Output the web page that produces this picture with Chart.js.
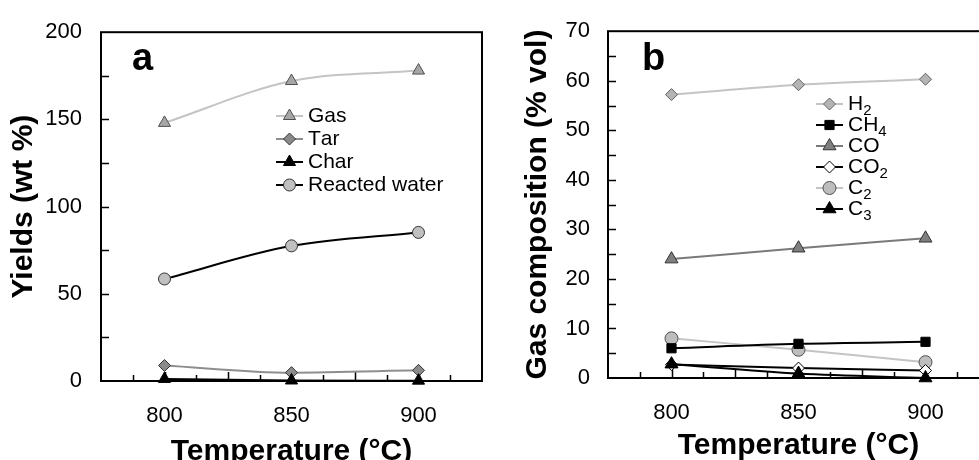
<!DOCTYPE html>
<html>
<head>
<meta charset="utf-8">
<script src="https://cdn.jsdelivr.net/npm/chart.js@4"></script>
<style>
  html, body { margin: 0; padding: 0; background: #fff; }
  body { width: 979px; height: 460px; overflow: hidden; position: relative; }
  canvas { position: absolute; top: 0; }
  #chartA { left: 0; }
  #chartB { left: 490px; }
</style>
</head>
<body>
<canvas id="chartA" width="490" height="500"></canvas>
<canvas id="chartB" width="510" height="500"></canvas>
<script>
// temperatures (x) shared by both panels
const temps = [800, 850, 900];
const xTicks = [800, 850, 900];

// panel a - yields (wt %)
const gasYield = [148, 172, 178];
const tarYield = [8.9, 4.8, 6.1];
const charYield = [1.2, 0.3, 0.2];
const reactedWater = [58.5, 77.5, 85.2];
const yTicksA = [0, 50, 100, 150, 200];

// panel b - gas composition (% vol)
const h2 = [57.2, 59.2, 60.3];
const ch4 = [6.0, 6.9, 7.3];
const co = [24.0, 26.2, 28.2];
const co2 = [2.7, 2.0, 1.5];
const c2 = [8.0, 5.7, 3.2];
const c3 = [2.8, 0.9, 0.0];
const yTicksB = [0, 10, 20, 30, 40, 50, 60, 70];

const FONT = "'Liberation Sans', Arial, Helvetica, sans-serif";

function pts(arr) {
  return arr.map((v, i) => ({x: temps[i], y: v}));
}

function series(label, data, line, style, fill, border, radius, order) {
  return {
    label: label,
    data: pts(data),
    borderColor: line,
    borderWidth: 2,
    pointStyle: style,
    pointRadius: radius,
    pointHoverRadius: radius,
    pointBackgroundColor: fill,
    pointBorderColor: border,
    pointBorderWidth: 1,
    cubicInterpolationMode: 'monotone',
    clip: false,
    order: order || 0
  };
}

// frame, inward ticks, legend and panel letter
const decoPlugin = {
  id: 'deco',
  beforeDatasetsDraw(chart, args, opts) {
    const ctx = chart.ctx, a = chart.chartArea;
    const xs = chart.scales.x, ys = chart.scales.y;
    ctx.save();
    ctx.strokeStyle = '#000';
    ctx.lineWidth = 2;
    ctx.strokeRect(a.left, a.top, a.right - a.left, a.bottom - a.top);
    ctx.lineWidth = 1.5;
    ctx.beginPath();
    for (let v = xs.min + opts.xMinor; v < xs.max - 0.01; v += opts.xMinor) {
      const px = Math.round(xs.getPixelForValue(v)) + 0.5;
      const len = (v % 25 === 0) ? 9 : 6;
      ctx.moveTo(px, a.bottom);
      ctx.lineTo(px, a.bottom - len);
    }
    for (let v = ys.min + opts.yMinor; v < ys.max - 0.01; v += opts.yMinor) {
      const py = Math.round(ys.getPixelForValue(v)) + 0.5;
      ctx.moveTo(a.left, py);
      ctx.lineTo(a.left + 8, py);
    }
    ctx.stroke();
    ctx.restore();
  },
  afterDraw(chart, args, opts) {
    const ctx = chart.ctx;
    ctx.save();
    // panel letter
    ctx.fillStyle = '#000';
    ctx.font = 'bold 38px ' + FONT;
    ctx.textBaseline = 'alphabetic';
    ctx.fillText(opts.letter, opts.letterX, opts.letterY);
    // legend
    chart.data.datasets.forEach((ds, i) => {
      const y = opts.legY + i * opts.legRow;
      const x0 = opts.legX;
      ctx.strokeStyle = ds.borderColor;
      ctx.lineWidth = 2;
      ctx.beginPath();
      ctx.moveTo(x0, y);
      ctx.lineTo(x0 + 27, y);
      ctx.stroke();
      ctx.fillStyle = ds.pointBackgroundColor;
      ctx.strokeStyle = ds.pointBorderColor;
      ctx.lineWidth = 1;
      Chart.helpers.drawPoint(ctx, {pointStyle: ds.pointStyle, radius: ds.pointRadius, rotation: 0, borderWidth: 1}, x0 + 13.5, y);
      // label with digits as subscripts
      ctx.fillStyle = '#000';
      ctx.textBaseline = 'middle';
      let tx = x0 + 32;
      for (const ch of ds.label) {
        if (/[0-9]/.test(ch)) {
          ctx.font = '15px ' + FONT;
          ctx.fillText(ch, tx, y + 7);
        } else {
          ctx.font = opts.legFont + 'px ' + FONT;
          ctx.fillText(ch, tx, y);
        }
        tx += ctx.measureText(ch).width;
      }
    });
    ctx.restore();
  }
};

function makeChart(id, datasets, yMax, yTicks, yTitle, cfg) {
  return new Chart(document.getElementById(id), {
    type: 'line',
    data: {datasets: datasets},
    plugins: [decoPlugin],
    options: {
      responsive: false,
      animation: false,
      devicePixelRatio: 1,
      layout: {padding: {top: cfg.padTop, right: cfg.padRight, left: 0, bottom: 0}},
      plugins: {
        legend: {display: false},
        tooltip: {enabled: false},
        deco: cfg.deco
      },
      scales: {
        x: {
          type: 'linear',
          min: 775,
          max: 925,
          afterBuildTicks: s => { s.ticks = xTicks.map(v => ({value: v})); },
          afterFit: s => { s.height = cfg.xHeight; },
          grid: {display: false, drawTicks: false},
          border: {display: false},
          ticks: {color: '#000', font: {family: FONT, size: 22}, padding: 22},
          title: {display: true, text: 'Temperature (°C)', color: '#000',
                  font: {family: FONT, size: 30, weight: 'bold'}, padding: {bottom: cfg.xTitlePad}}
        },
        y: {
          min: 0,
          max: yMax,
          afterBuildTicks: s => { s.ticks = yTicks.map(v => ({value: v})); },
          afterFit: s => { s.width = cfg.yWidth; },
          grid: {display: false, drawTicks: false},
          border: {display: false},
          ticks: {color: '#000', font: {family: FONT, size: 22}, padding: cfg.yTickPad},
          title: {display: true, text: yTitle, color: '#000',
                  font: {family: FONT, size: 30, weight: 'bold'}, padding: {top: cfg.yTitlePad}}
        }
      }
    }
  });
}

makeChart('chartA', [
  series('Gas', gasYield, '#c4c4c4', 'triangle', '#a6a6a6', '#505050', 7),
  series('Tar', tarYield, '#8e8e8e', 'rectRot', '#8a8a8a', '#333', 6),
  series('Char', charYield, '#000', 'triangle', '#000', '#000', 7, -1),
  series('Reacted water', reactedWater, '#000', 'circle', '#c0c0c0', '#333', 6)
], 200, yTicksA, 'Yields (wt %)', {
  padTop: 22, padRight: 8, xHeight: 119, yWidth: 101, yTickPad: 19, yTitlePad: 6, xTitlePad: 30,
  deco: {xMinor: 12.5, yMinor: 25, letter: 'a', letterX: 132, letterY: 70,
         legX: 276, legY: 116, legRow: 23, legFont: 21}
});

makeChart('chartB', [
  series('H2', h2, '#c4c4c4', 'rectRot', '#b4b4b4', '#606060', 6),
  series('CH4', ch4, '#000', 'rect', '#000', '#000', 6.5),
  series('CO', co, '#7a7a7a', 'triangle', '#7f7f7f', '#333', 7.5),
  series('CO2', co2, '#000', 'rectRot', '#fff', '#000', 6),
  series('C2', c2, '#c4c4c4', 'circle', '#bdbdbd', '#505050', 6.5),
  series('C3', c3, '#000', 'triangle', '#000', '#000', 7.5, -1)
], 70, yTicksB, 'Gas composition (% vol)', {
  padTop: 27, padRight: 11, xHeight: 122, yWidth: 118, yTickPad: 18, yTitlePad: 30, xTitlePad: 36,
  deco: {xMinor: 12.5, yMinor: 5, letter: 'b', letterX: 152, letterY: 70,
         legX: 326, legY: 104, legRow: 21, legFont: 21}
});
</script>
</body>
</html>
